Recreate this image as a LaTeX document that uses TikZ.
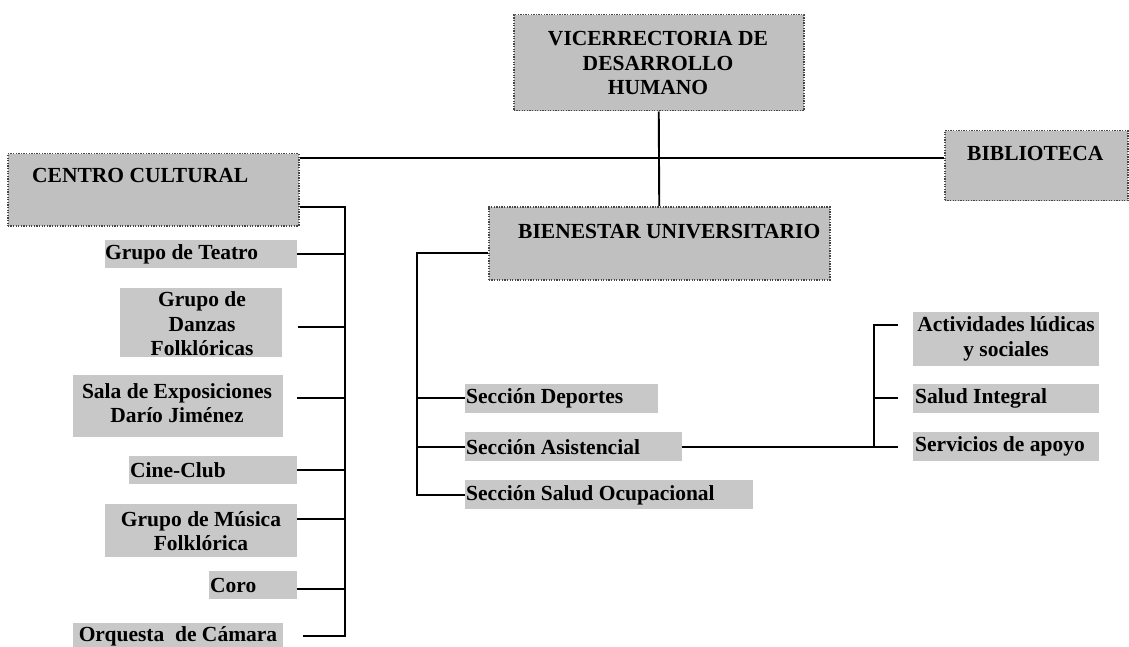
\documentclass[tikz,border=0pt]{standalone}
\usepackage{fontspec}
\setmainfont{Liberation Serif}
\definecolor{biggray}{RGB}{192,192,192}
\definecolor{smallgray}{RGB}{200,200,200}
\definecolor{bordgray}{RGB}{70,70,70}
\begin{document}
\begin{tikzpicture}[x=1pt,y=-1pt,
  bigbox/.style={fill=biggray,draw=bordgray,line width=1.5pt,dash pattern=on 1.3pt off 1.3pt,inner sep=0pt,anchor=north west},
  smallbox/.style={fill=smallgray,draw=none,inner sep=0pt,anchor=north west},
  lbl/.style={font=\fontsize{21.5}{24.5}\selectfont\bfseries,inner sep=0pt,align=center},
  conn/.style={line width=1.9pt,draw=black}]
\useasboundingbox (0,0) rectangle (1129,647);

% ---- big boxes ----
\node[bigbox,minimum width=290pt,minimum height=96pt] (vice) at (513,14) {};
\node[lbl] (vicet) at (658,63) {VICERRECTORIA DE\\DESARROLLO\\HUMANO};
\node[bigbox,minimum width=291pt,minimum height=72pt] (cc) at (7,153) {};
\node[lbl,anchor=west] (cct) at (32,175) {CENTRO CULTURAL};
\node[bigbox,minimum width=183pt,minimum height=70pt] (bib) at (944,130) {};
\node[lbl,anchor=west] (bibt) at (967,153) {BIBLIOTECA};
\node[bigbox,minimum width=341pt,minimum height=73pt] (bien) at (488,206) {};
\node[lbl,anchor=west] (bient) at (518,232) {BIENESTAR UNIVERSITARIO};

% ---- main connectors ----
\coordinate (hl) at (657,158);
\draw[conn] (vice.south) -- (bien.north);
\draw[conn] (cc.east |- hl) -- (bib.west |- hl);

% ---- centro cultural items ----
\node[smallbox,minimum width=192pt,minimum height=28pt] (teatro) at (105,240) {};
\node[lbl,anchor=west] (teatrot) at (105,254) {Grupo de Teatro};
\node[smallbox,minimum width=162pt,minimum height=69pt] (danzas) at (120,288) {};
\node[lbl] (danzast) at (202,324) {Grupo de\\Danzas\\Folklóricas};
\node[smallbox,minimum width=210pt,minimum height=62pt] (sala) at (73,375) {};
\node[lbl] (salat) at (177,403) {Sala de Exposiciones\\Darío Jiménez};
\node[smallbox,minimum width=168pt,minimum height=28pt] (cine) at (129,456) {};
\node[lbl,anchor=west] (cinet) at (130,470) {Cine-Club};
\node[smallbox,minimum width=192pt,minimum height=53pt] (musica) at (105,504) {};
\node[lbl] (musicat) at (201,531) {Grupo de Música\\Folklórica};
\node[smallbox,minimum width=88pt,minimum height=28pt] (coro) at (209,571) {};
\node[lbl,anchor=west] (corot) at (210,585) {Coro};
\node[smallbox,minimum width=210pt,minimum height=24pt] (orq) at (73,623) {};
\node[lbl] (orqt) at (178,636) {Orquesta\ \ de Cámara};

\coordinate (cctop) at (345,207);
\coordinate (cTeatro) at (297,254);
\coordinate (cDanzas) at (298,327);
\coordinate (cSala) at (297,398);
\coordinate (cCine) at (297,470);
\coordinate (cMusica) at (297,519);
\coordinate (cCoro) at (297,589);
\coordinate (cOrq) at (303,636);
\draw[conn] (cc.east |- cctop) -- (cctop) -- (cctop |- cOrq) -- (cOrq);
\foreach \c in {cTeatro,cDanzas,cSala,cCine,cMusica,cCoro}
  \draw[conn] (\c) -- (\c -| cctop);

% ---- bienestar items ----
\node[smallbox,minimum width=193pt,minimum height=29pt] (dep) at (465,384) {};
\node[lbl,anchor=west] (dept) at (466,398) {Sección Deportes};
\node[smallbox,minimum width=217pt,minimum height=29pt] (asis) at (465,432) {};
\node[lbl,anchor=west] (asist) at (466,447) {Sección Asistencial};
\node[smallbox,minimum width=288pt,minimum height=29pt] (ocup) at (465,480) {};
\node[lbl,anchor=west] (ocupt) at (466,495) {Sección Salud Ocupacional};

\coordinate (btop) at (417,253);
\coordinate (cDep) at (465,398);
\coordinate (cAsis) at (465,447);
\coordinate (cOcup) at (465,495);
\draw[conn] (bien.west |- btop) -- (btop) -- (btop |- cOcup) -- (cOcup);
\draw[conn] (cDep) -- (cDep -| btop);
\draw[conn] (cAsis) -- (cAsis -| btop);

% ---- asistencial items ----
\node[smallbox,minimum width=186pt,minimum height=54pt] (act) at (913,312) {};
\node[lbl] (actt) at (1006,339) {Actividades lúdicas\\y sociales};
\node[smallbox,minimum width=186pt,minimum height=29pt] (salint) at (913,384) {};
\node[lbl,anchor=west] (salintt) at (915,398) {Salud Integral};
\node[smallbox,minimum width=186pt,minimum height=29pt] (serv) at (913,432) {};
\node[lbl,anchor=west] (servt) at (915,446) {Servicios de apoyo};

\coordinate (rtop) at (874,325);
\coordinate (cAct) at (898,325);
\coordinate (cSal) at (898,398);
\coordinate (cServ) at (898,447);
\draw[conn] (asis.east |- cAsis) -- (cServ);
\draw[conn] (cAct) -- (rtop) -- (rtop |- cServ);
\draw[conn] (cSal) -- (cSal -| rtop);
\end{tikzpicture}
\end{document}
